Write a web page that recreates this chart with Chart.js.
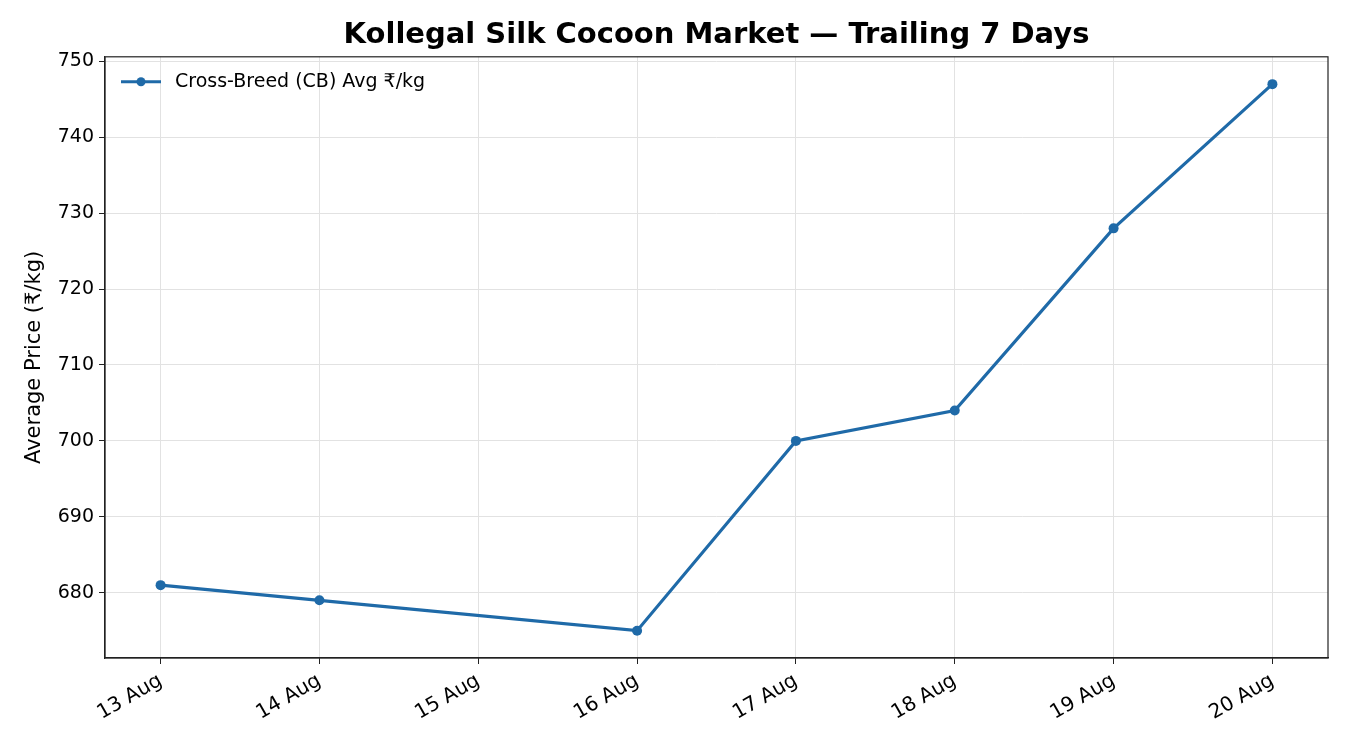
<!DOCTYPE html>
<html>
<head>
<meta charset="utf-8">
<title>Kollegal Silk Cocoon Market</title>
<script src="https://cdn.jsdelivr.net/npm/chart.js@4"></script>
<style>
  html, body { margin: 0; padding: 0; background: #fff; }
  #wrap { width: 1350px; height: 750px; }
</style>
</head>
<body>
<div id="wrap"><canvas id="priceChart"></canvas></div>
<script>
// data (day of August, avg price in rupees per kg) - no market on 15 Aug
const days = [13, 14, 16, 17, 18, 19, 20];
const cbPrices = [681, 679, 675, 700, 704, 728, 747];
const dayTicks = [13, 14, 15, 16, 17, 18, 19, 20];
const priceTicks = [680, 690, 700, 710, 720, 730, 740, 750];
const monthLabel = 'Aug';
const seriesName = 'Cross-Breed (CB) Avg ₹/kg';

const lineColor = '#1f6aa8';
const FONT = "'DejaVu Sans', sans-serif";

// legend drawn inside the plot, top-left, plus top/right spines
const insidePlot = {
  id: 'insidePlot',
  afterDraw(chart) {
    const ctx = chart.ctx;
    const a = chart.chartArea;
    ctx.save();
    ctx.strokeStyle = '#222';
    ctx.lineWidth = 1.2;
    ctx.strokeRect(a.left, a.top, a.right - a.left, a.bottom - a.top);

    const y = a.top + 25;
    const x0 = a.left + 16;
    ctx.strokeStyle = lineColor;
    ctx.lineWidth = 3;
    ctx.beginPath();
    ctx.moveTo(x0, y);
    ctx.lineTo(x0 + 40, y);
    ctx.stroke();
    ctx.fillStyle = lineColor;
    ctx.beginPath();
    ctx.arc(x0 + 20, y, 4.5, 0, Math.PI * 2);
    ctx.fill();
    ctx.fillStyle = '#000';
    ctx.font = '19px ' + FONT;
    ctx.textBaseline = 'middle';
    ctx.textAlign = 'left';
    ctx.fillText(seriesName, x0 + 54, y);
    ctx.restore();
  }
};

const ctx = document.getElementById('priceChart').getContext('2d');
new Chart(ctx, {
  type: 'line',
  data: {
    datasets: [{
      label: seriesName,
      data: days.map((d, i) => ({ x: d, y: cbPrices[i] })),
      borderColor: lineColor,
      backgroundColor: lineColor,
      borderWidth: 3.2,
      pointRadius: 5,
      pointBorderWidth: 0,
      pointBackgroundColor: lineColor,
      tension: 0,
      fill: false
    }]
  },
  options: {
    responsive: true,
    maintainAspectRatio: false,
    animation: false,
    layout: { padding: { left: 18, right: 22, top: 0, bottom: 0 } },
    plugins: {
      legend: { display: false },
      tooltip: { enabled: false },
      title: {
        display: true,
        fullSize: false,
        text: 'Kollegal Silk Cocoon Market — Trailing 7 Days',
        color: '#000',
        font: { family: FONT, size: 29, weight: 'bold', lineHeight: 1.2 },
        padding: { top: 18, bottom: 4 }
      }
    },
    scales: {
      x: {
        type: 'linear',
        min: 12.65,
        max: 20.35,
        afterBuildTicks: s => { s.ticks = dayTicks.map(v => ({ value: v })); },
        afterFit: s => { s.height = 92; },
        grid: { color: '#e2e2e2', lineWidth: 1, tickLength: 6, tickColor: '#222' },
        border: { display: true, color: '#222', width: 1.2 },
        ticks: {
          color: '#000',
          font: { family: FONT, size: 20 },
          minRotation: 30,
          maxRotation: 30,
          padding: 5,
          callback: v => v + ' ' + monthLabel
        }
      },
      y: {
        min: 671.4,
        max: 750.6,
        afterBuildTicks: s => { s.ticks = priceTicks.map(v => ({ value: v })); },
        afterFit: s => { s.width = 87; },
        grid: { color: '#e2e2e2', lineWidth: 1, tickLength: 6, tickColor: '#222' },
        border: { display: true, color: '#222', width: 1.2 },
        ticks: {
          color: '#000',
          font: { family: FONT, size: 19 },
          padding: 5
        },
        title: {
          display: true,
          text: 'Average Price (₹/kg)',
          color: '#000',
          font: { family: FONT, size: 21 },
          padding: { top: 4, bottom: 4 }
        }
      }
    }
  },
  plugins: [insidePlot]
});
</script>
</body>
</html>
